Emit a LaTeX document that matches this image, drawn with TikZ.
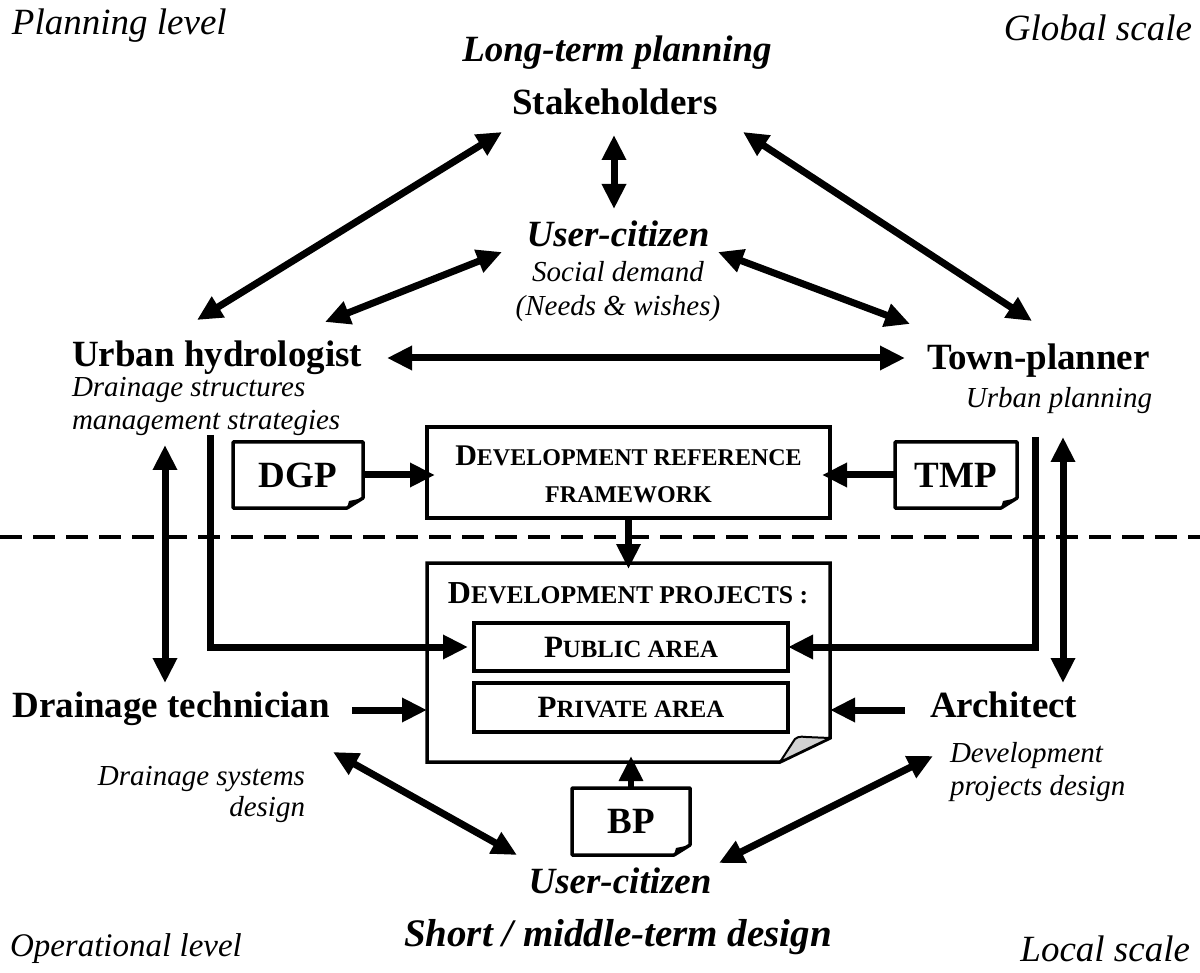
\documentclass[tikz,border=0pt]{standalone}
\usepackage{fontspec}
\setmainfont{Liberation Serif}
\usetikzlibrary{arrows.meta,calc}
\newcommand{\smc}[2]{{\fontsize{#1}{#1}\selectfont #2}}
\newcommand{\docoutline}[1]{%
  \draw[line width=3.5pt, line join=round] (#1.north west) -- (#1.north east) -- ($(#1.south east)+(0,-10)$) -- ($(#1.south east)+(-16,0)$) -- (#1.south west) -- cycle;
  \fill ($(#1.south east)+(0,-10)$) -- ($(#1.south east)+(-16,0)$) -- ($(#1.south east)+(-14,-7)$) -- cycle;
}
\begin{document}
\begin{tikzpicture}[x=1pt,y=-1pt,
  every node/.style={inner sep=0pt, outer sep=0pt},
  bld/.style={font=\fontsize{37}{42}\selectfont\bfseries},
  bit/.style={font=\fontsize{37}{42}\selectfont\bfseries\itshape},
  bigit/.style={font=\fontsize{37}{42}\selectfont\itshape},
  smit/.style={font=\fontsize{29}{35}\selectfont\itshape},
  arr/.style={line width=7pt, line join=miter, -{Triangle[length=25pt,width=23pt]}},
  darr/.style={line width=7pt, {Triangle[length=25pt,width=23pt]}-{Triangle[length=25pt,width=23pt]}},
  boxline/.style={draw, line width=3.5pt},
]
\useasboundingbox (0,0) rectangle (1200,973);

% corner labels
\node[bigit, anchor=base west] (plan) at (12,35) {Planning level};
\node[bigit, anchor=base east] (glob) at (1192,41) {Global scale};
\node[bigit, anchor=base west, font=\fontsize{33}{40}\selectfont\itshape] (oper) at (10,956) {Operational level};
\node[bigit, anchor=base east] (loc) at (1190,961) {Local scale};

% top
\node[bit, anchor=base] (lt) at (617,62) {Long-term planning};
\node[bld, anchor=base] (sh) at (615,115) {Stakeholders};
\node[bit, anchor=base] (uc) at (618,247) {User-citizen};
\node[smit, anchor=base] (sd) at (618,282) {Social demand};
\node[smit, anchor=base] (nw) at (618,316) {(Needs \& wishes)};

% actors
\node[bld, anchor=base west] (hy) at (72,367) {Urban hydrologist};
\node[smit, anchor=base west] (hy1) at (72,397) {Drainage structures};
\node[smit, anchor=base west] (hy2) at (72,430) {management strategies};
\node[bld, anchor=base west] (tp) at (927,370) {Town-planner};
\node[smit, anchor=base east] (tp1) at (1152,408) {Urban planning};
\node[bld, anchor=base east] (dt) at (330,717) {Drainage technician};
\node[smit, anchor=base east] (dt1) at (305,785) {Drainage systems};
\node[smit, anchor=base east] (dt2) at (305,816) {design};
\node[bld, anchor=base west] (ar) at (930,717) {Architect};
\node[smit, anchor=base west] (ar1) at (950,762) {Development};
\node[smit, anchor=base west] (ar2) at (950,795) {projects design};

% bottom
\node[bit, anchor=base] (uc2) at (620,893) {User-citizen};
\node[bit, anchor=base, font=\fontsize{39}{44}\selectfont\bfseries\itshape] (smd) at (618,946) {Short / middle-term design};

% documents
\node[bld, minimum width=130pt, minimum height=66pt] (dgp) at (298,475) {DGP};
\docoutline{dgp}
\node[bld, minimum width=122pt, minimum height=66pt] (tmp) at (956,475) {TMP};
\docoutline{tmp}
\node[bld, minimum width=118pt, minimum height=67pt] (bp) at (631,821.5) {BP};
\docoutline{bp}

% development reference framework
\node[boxline, minimum width=403pt, minimum height=91pt] (drf) at (628.5,472.5) {};
\node[anchor=base, font=\fontsize{30}{30}\selectfont\bfseries] (drf1) at (628.5,466) {D\smc{24}{EVELOPMENT REFERENCE}};
\node[anchor=base, font=\fontsize{30}{30}\selectfont\bfseries] (drf2) at (628.5,502) {\smc{24}{FRAMEWORK}};

% dashed separator
\coordinate (dl) at (0,537);
\coordinate (dr) at (1200,537);
\draw[line width=3.5pt, dash pattern=on 22pt off 11pt] (dl) -- (dr);

% development projects
\node[minimum width=403pt, minimum height=199pt] (dp) at (628.5,662.5) {};
\draw[line width=3.5pt, line join=miter] (dp.north west) -- (dp.north east) -- ($(dp.south east)+(0,-24)$) -- ($(dp.south east)+(-50,0)$) -- (dp.south west) -- cycle;
\filldraw[fill=gray!35, line width=2pt, line join=round] ($(dp.south east)+(-50,0)$) -- ($(dp.south east)+(-37,-20)$) .. controls ($(dp.south east)+(-35,-25)$) and ($(dp.south east)+(-30,-26)$) .. ($(dp.south east)+(-24,-25)$) -- ($(dp.south east)+(0,-24)$) -- cycle;
\node[anchor=base, font=\fontsize{32}{32}\selectfont\bfseries] (dpt) at (628,603) {D\smc{25.6}{EVELOPMENT PROJECTS :}};
\node[boxline, minimum width=314pt, minimum height=48pt, font=\fontsize{31}{31}\selectfont\bfseries] (pub) at (631,647) {P\smc{24.8}{UBLIC AREA}};
\node[boxline, minimum width=314pt, minimum height=49pt, font=\fontsize{31}{31}\selectfont\bfseries] (pri) at (631,707.5) {P\smc{24.8}{RIVATE AREA}};

% arrows between documents and boxes
\draw[arr] (dgp.east) -- ([xshift=8pt]dgp.east -| drf.west);
\draw[arr] (tmp.west) -- ([xshift=-8pt]tmp.west -| drf.east);
\draw[arr] (drf.south) -- ([yshift=-6pt]dp.north);
\draw[arr, line width=6pt] (bp.north) -- ([yshift=6pt]bp.north |- dp.south);

% top triangle of double arrows
\coordinate (s1) at (502,132); \coordinate (h1) at (197,320);
\coordinate (s2) at (743,132); \coordinate (t1) at (1032,321);
\coordinate (s3) at (614,135); \coordinate (u1) at (614,209);
\coordinate (u2) at (502,252); \coordinate (h2) at (325,322);
\coordinate (u3) at (718,252); \coordinate (t2) at (910,324);
\coordinate (h3) at (387,358); \coordinate (t3) at (905,358);
\draw[darr] (s1) -- (h1);
\draw[darr] (s2) -- (t1);
\draw[darr] (s3) -- (u1);
\draw[darr] (u2) -- (h2);
\draw[darr] (u3) -- (t2);
\draw[darr] (h3) -- (t3);

% vertical double arrows
\coordinate (lv1) at (165,445); \coordinate (lv2) at (165,683);
\coordinate (rv1) at (1063,437); \coordinate (rv2) at (1063,683);
\draw[darr] (lv1) -- (lv2);
\draw[darr] (rv1) -- (rv2);

% hydrologist / town-planner to public area
\coordinate (hb) at (210,435);
\coordinate (tb) at (1035,437);
\draw[arr] (hb) -- (hb |- pub.west) -- ([xshift=-6pt]pub.west);
\draw[arr] (tb) -- (tb |- pub.east) -- (pub.east);

% technician / architect to development projects
\coordinate (dta) at (352,710);
\coordinate (ara) at (905,710);
\draw[arr] (dta) -- (dta -| dp.west);
\draw[arr] (ara) -- (ara -| dp.east);

% bottom double arrows
\coordinate (b1) at (333,752); \coordinate (b2) at (517,855);
\coordinate (b3) at (933,756); \coordinate (b4) at (719,863);
\draw[darr] (b1) -- (b2);
\draw[darr] (b3) -- (b4);
\end{tikzpicture}
\end{document}
